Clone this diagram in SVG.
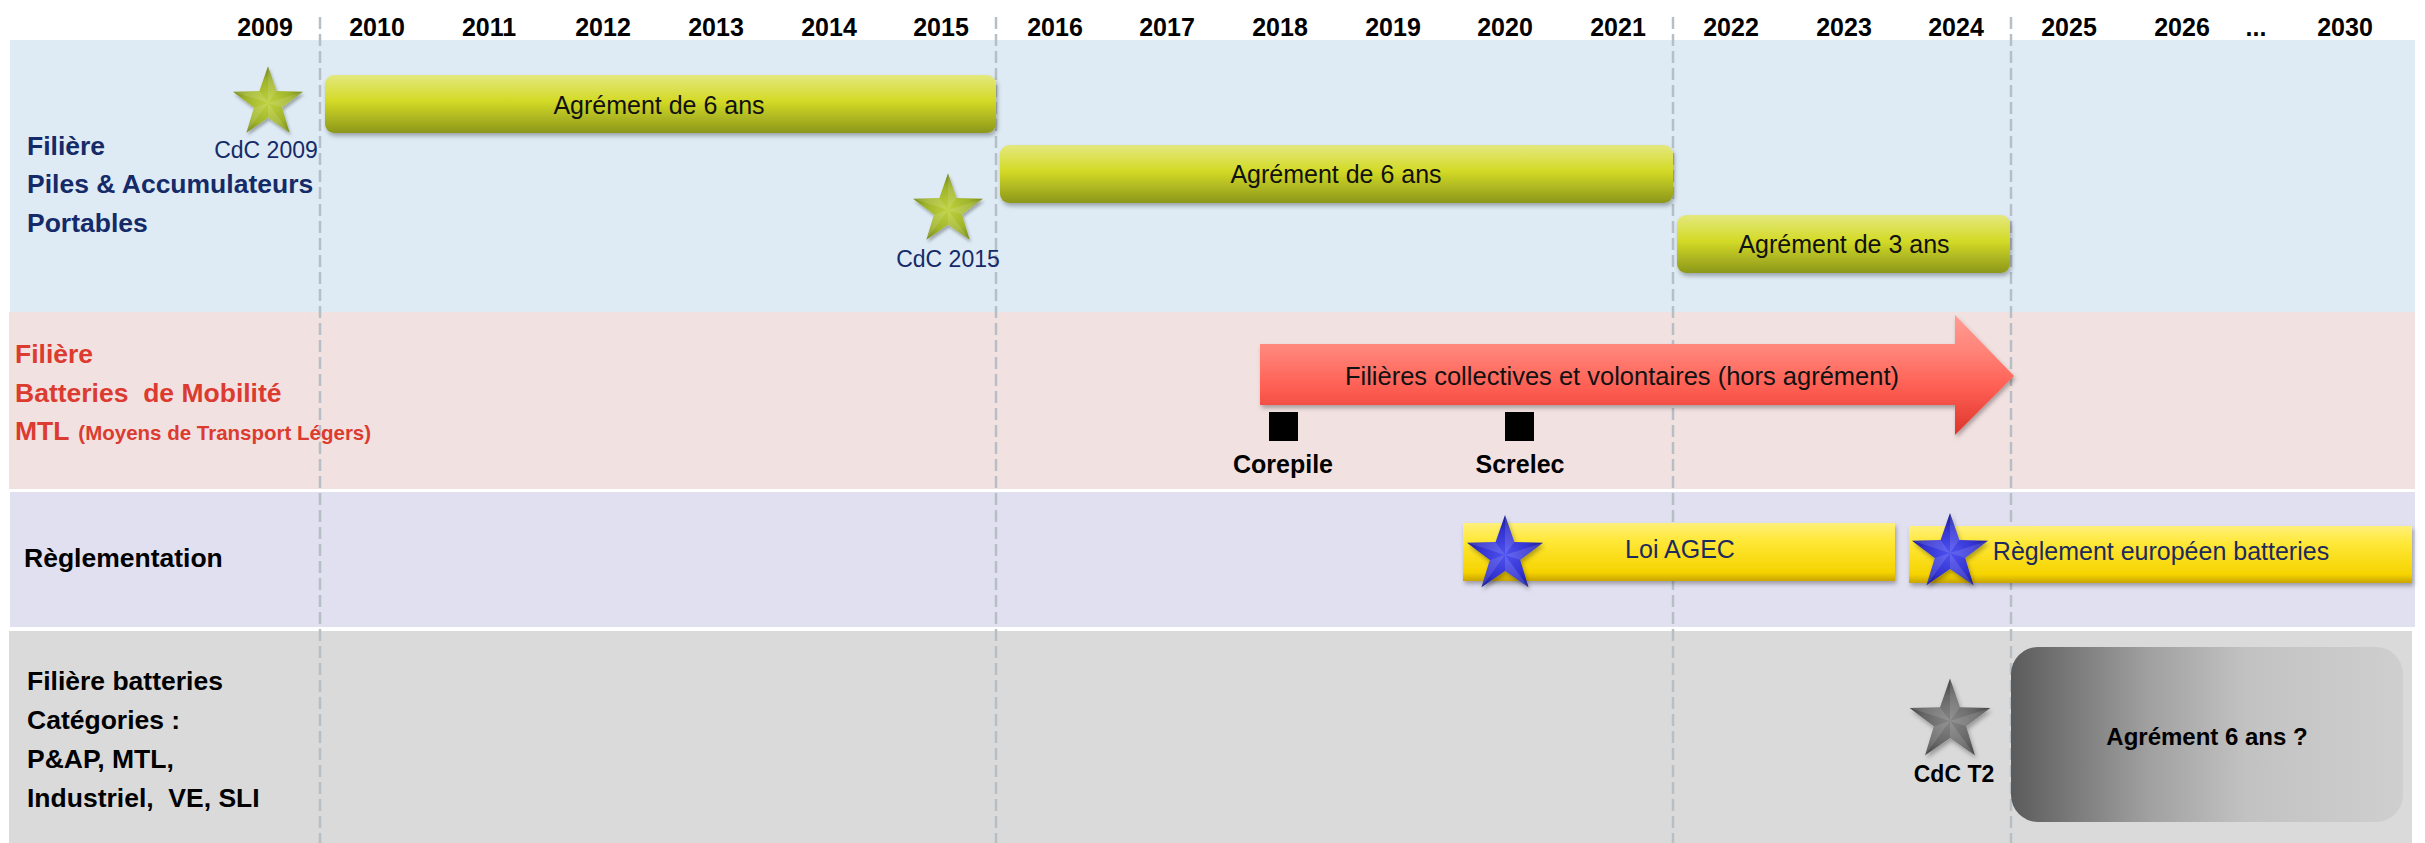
<svg xmlns="http://www.w3.org/2000/svg" width="2425" height="843" viewBox="0 0 2425 843">
<style>
.yr{font-family:"Liberation Sans",Arial,sans-serif;font-weight:bold;font-size:25px;fill:#000;text-anchor:middle}
.lbl{font-family:"Liberation Sans",Arial,sans-serif;font-weight:bold;font-size:26.5px}
.navy{fill:#152a68}
.red{fill:#dc3b30}
.blk{fill:#000}
.bar{font-family:"Liberation Sans",Arial,sans-serif;font-size:25px;fill:#111;text-anchor:middle}
.cdc{font-family:"Liberation Sans",Arial,sans-serif;font-size:23px;fill:#152a68;text-anchor:middle}
.bold{font-family:"Liberation Sans",Arial,sans-serif;font-weight:bold;font-size:25px;fill:#000;text-anchor:middle}
.grid{stroke:#b6bec6;stroke-width:2.5;stroke-dasharray:12 5;fill:none}
</style>
<defs>
<linearGradient id="gBar" x1="0" y1="0" x2="0" y2="1">
<stop offset="0" stop-color="#e4e87e"/>
<stop offset="0.45" stop-color="#d3da26"/>
<stop offset="1" stop-color="#8c971c"/>
</linearGradient>
<linearGradient id="gYel" x1="0" y1="0" x2="0" y2="1">
<stop offset="0" stop-color="#fff07a"/>
<stop offset="0.3" stop-color="#ffe838"/>
<stop offset="0.85" stop-color="#f5d300"/>
<stop offset="1" stop-color="#c9a500"/>
</linearGradient>
<linearGradient id="gArrow" gradientUnits="userSpaceOnUse" x1="0" y1="315" x2="0" y2="435">
<stop offset="0" stop-color="#ff9d93"/>
<stop offset="0.3" stop-color="#ff8378"/>
<stop offset="0.6" stop-color="#ff5f54"/>
<stop offset="1" stop-color="#dd352b"/>
</linearGradient>
<linearGradient id="gGrey" x1="0" y1="0" x2="1" y2="0">
<stop offset="0" stop-color="#5b5b5b"/>
<stop offset="0.35" stop-color="#a0a0a0"/>
<stop offset="0.6" stop-color="#c2c2c2"/>
<stop offset="1" stop-color="#cfcfcf"/>
</linearGradient>
<radialGradient id="gStarG" cx="0.5" cy="0.55" r="0.55">
<stop offset="0" stop-color="#bfd23e"/>
<stop offset="0.6" stop-color="#9fb42a"/>
<stop offset="1" stop-color="#738519"/>
</radialGradient>
<radialGradient id="gStarB" cx="0.5" cy="0.55" r="0.55">
<stop offset="0" stop-color="#4f52f0"/>
<stop offset="0.6" stop-color="#3333d2"/>
<stop offset="1" stop-color="#1a1a8a"/>
</radialGradient>
<radialGradient id="gStarK" cx="0.5" cy="0.55" r="0.55">
<stop offset="0" stop-color="#858585"/>
<stop offset="0.6" stop-color="#666"/>
<stop offset="1" stop-color="#404040"/>
</radialGradient>
<path id="star" d="M0,-40 L9.4,-12.94 L38.04,-12.36 L15.22,4.94 L23.51,32.36 L0,16 L-23.51,32.36 L-15.22,4.94 L-38.04,-12.36 L-9.4,-12.94 Z"/>
<path id="facet" d="M0,0 L0,-40 L9.4,-12.94 Z M0,0 L38.04,-12.36 L15.22,4.94 Z M0,0 L23.51,32.36 L0,16 Z M0,0 L-23.51,32.36 L-15.22,4.94 Z M0,0 L-38.04,-12.36 L-9.4,-12.94 Z"/>
<filter id="sh" x="-5%" y="-20%" width="110%" height="150%">
<feDropShadow dx="1.5" dy="3" stdDeviation="2" flood-color="#000" flood-opacity="0.3"/>
</filter>
</defs>

<rect width="2425" height="843" fill="#fff"/>

<g id="bands">
<rect x="10" y="40" width="2405" height="272" fill="#deebf4"/>
<rect x="9" y="312" width="2406" height="177" fill="#f2e1e1"/>
<rect x="10" y="492" width="2405" height="135" fill="#e1e0f0"/>
<rect x="9" y="631" width="2403" height="212" fill="#dadada"/>
</g>

<g id="gridlines">
<line class="grid" x1="320" y1="17" x2="320" y2="843"/>
<line class="grid" x1="996" y1="17" x2="996" y2="843"/>
<line class="grid" x1="1673" y1="17" x2="1673" y2="843"/>
<line class="grid" x1="2011" y1="17" x2="2011" y2="843"/>
</g>

<g id="years">
<text class="yr" x="265" y="36">2009</text>
<text class="yr" x="377" y="36">2010</text>
<text class="yr" x="489" y="36">2011</text>
<text class="yr" x="603" y="36">2012</text>
<text class="yr" x="716" y="36">2013</text>
<text class="yr" x="829" y="36">2014</text>
<text class="yr" x="941" y="36">2015</text>
<text class="yr" x="1055" y="36">2016</text>
<text class="yr" x="1167" y="36">2017</text>
<text class="yr" x="1280" y="36">2018</text>
<text class="yr" x="1393" y="36">2019</text>
<text class="yr" x="1505" y="36">2020</text>
<text class="yr" x="1618" y="36">2021</text>
<text class="yr" x="1731" y="36">2022</text>
<text class="yr" x="1844" y="36">2023</text>
<text class="yr" x="1956" y="36">2024</text>
<text class="yr" x="2069" y="36">2025</text>
<text class="yr" x="2182" y="36">2026</text>
<text class="yr" x="2256" y="36">...</text>
<text class="yr" x="2345" y="36">2030</text>
</g>

<g id="label-piles">
<text class="lbl navy" x="27" y="155">Filière</text>
<text class="lbl navy" x="27" y="193">Piles &amp; Accumulateurs</text>
<text class="lbl navy" x="27" y="232">Portables</text>
</g>
<g id="label-mtl">
<text class="lbl red" x="15" y="363">Filière</text>
<text class="lbl red" x="15" y="402">Batteries&#160; de Mobilité</text>
<text class="lbl red" x="15" y="440">MTL <tspan font-size="20.5" dx="2">(Moyens de Transport Légers)</tspan></text>
</g>
<g id="label-reglementation">
<text class="lbl blk" x="24" y="567">Règlementation</text>
</g>
<g id="label-batteries">
<text class="lbl blk" x="27" y="690">Filière batteries</text>
<text class="lbl blk" x="27" y="729">Catégories :</text>
<text class="lbl blk" x="27" y="768">P&amp;AP, MTL,</text>
<text class="lbl blk" x="27" y="807">Industriel,&#160; VE, SLI</text>
</g>

<g id="agrement-2010">
<rect x="325" y="75" width="671" height="58" rx="9" fill="url(#gBar)" filter="url(#sh)"/>
<text class="bar" x="659" y="114">Agrément de 6 ans</text>
</g>
<g id="agrement-2016">
<rect x="1000" y="145" width="673" height="58" rx="9" fill="url(#gBar)" filter="url(#sh)"/>
<text class="bar" x="1336" y="183">Agrément de 6 ans</text>
</g>
<g id="agrement-2022">
<rect x="1677" y="215" width="333" height="58" rx="9" fill="url(#gBar)" filter="url(#sh)"/>
<text class="bar" x="1844" y="253">Agrément de 3 ans</text>
</g>

<g id="cdc-2009">
<g transform="translate(268,103) scale(0.92)" filter="url(#sh)">
<use href="#star" fill="url(#gStarG)"/>
<use href="#facet" fill="#fff" fill-opacity="0.12"/>
</g>
<text class="cdc" x="266" y="158">CdC 2009</text>
</g>
<g id="cdc-2015">
<g transform="translate(948,210) scale(0.92)" filter="url(#sh)">
<use href="#star" fill="url(#gStarG)"/>
<use href="#facet" fill="#fff" fill-opacity="0.12"/>
</g>
<text class="cdc" x="948" y="267">CdC 2015</text>
</g>

<g id="filieres-collectives">
<path d="M1260,344 L1955,344 L1955,315 L2014,376 L1955,435 L1955,405 L1260,405 Z" fill="url(#gArrow)" filter="url(#sh)"/>
<text class="bar" x="1622" y="385" style="font-size:25.5px">Filières collectives et volontaires (hors agrément)</text>
</g>

<g id="corepile">
<rect x="1269" y="412" width="29" height="29" fill="#000"/>
<text class="bold" x="1283" y="473">Corepile</text>
</g>
<g id="screlec">
<rect x="1505" y="412" width="29" height="29" fill="#000"/>
<text class="bold" x="1520" y="473">Screlec</text>
</g>

<g id="loi-agec">
<rect x="1463" y="523" width="432" height="58" fill="url(#gYel)" filter="url(#sh)"/>
<text class="bar" x="1680" y="558" style="fill:#1c2a5e">Loi AGEC</text>
<g transform="translate(1505,555)" filter="url(#sh)">
<use href="#star" fill="url(#gStarB)"/>
<use href="#facet" fill="#fff" fill-opacity="0.12"/>
</g>
</g>
<g id="reglement-europeen">
<rect x="1909" y="526" width="503" height="57" fill="url(#gYel)" filter="url(#sh)"/>
<text class="bar" x="2161" y="560" style="fill:#1c2a5e">Règlement européen batteries</text>
<g transform="translate(1950,553)" filter="url(#sh)">
<use href="#star" fill="url(#gStarB)"/>
<use href="#facet" fill="#fff" fill-opacity="0.12"/>
</g>
</g>

<g id="cdc-t2">
<g transform="translate(1950,721) scale(1.06)" filter="url(#sh)">
<use href="#star" fill="url(#gStarK)"/>
<use href="#facet" fill="#fff" fill-opacity="0.12"/>
</g>
<text class="bold" x="1954" y="782" style="font-size:23px">CdC T2</text>
</g>

<g id="agrement-futur">
<rect x="2011" y="647" width="392" height="175" rx="27" fill="url(#gGrey)"/>
<text class="bold" x="2207" y="745" style="font-size:24px">Agrément 6 ans ?</text>
</g>

<g id="connectors"/>
</svg>
